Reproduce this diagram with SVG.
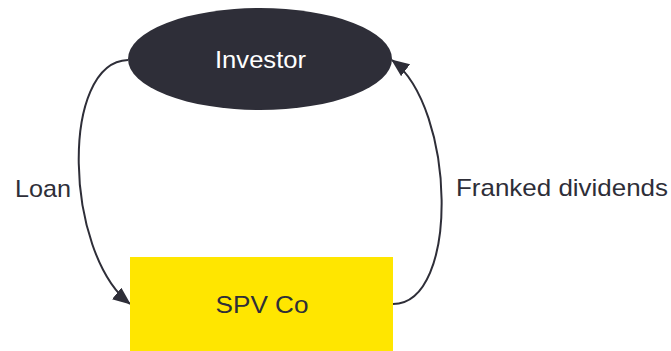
<svg xmlns="http://www.w3.org/2000/svg" width="671" height="351" viewBox="0 0 671 351">
<defs>
<style>
.lbl{font-family:"Liberation Sans",Arial,sans-serif;font-size:24px;fill:#2e2e38}
.conn{fill:none;stroke:#2e2e38;stroke-width:2}
</style>
<marker id="ah" markerUnits="userSpaceOnUse" markerWidth="20" markerHeight="16" refX="17" refY="7.5" orient="auto">
<path d="M0,0 L18,7.5 L0,15 Z" fill="#2e2e38"/>
</marker>
</defs>
<rect width="671" height="351" fill="#ffffff"/>
<g id="connectors">
<path class="conn" d="M128,60 C60,62 64,252 130,304" marker-end="url(#ah)"/>
<path class="conn" d="M393,304 C460,304 456,108 392,60" marker-end="url(#ah)"/>
</g>
<g id="investor">
<ellipse cx="260" cy="59" rx="132" ry="51" fill="#2e2e38"/>
<text class="lbl" x="260.5" y="68" text-anchor="middle" style="fill:#ffffff" textLength="91" lengthAdjust="spacingAndGlyphs">Investor</text>
</g>
<g id="spvco">
<rect x="130" y="257" width="263" height="94" fill="#ffe600"/>
<text class="lbl" x="262" y="313" text-anchor="middle" textLength="93" lengthAdjust="spacingAndGlyphs">SPV Co</text>
</g>
<g id="label-loan">
<text class="lbl" x="15" y="197" textLength="56" lengthAdjust="spacingAndGlyphs">Loan</text>
</g>
<g id="label-franked">
<text class="lbl" x="456" y="196" textLength="212" lengthAdjust="spacingAndGlyphs">Franked dividends</text>
</g>
</svg>
